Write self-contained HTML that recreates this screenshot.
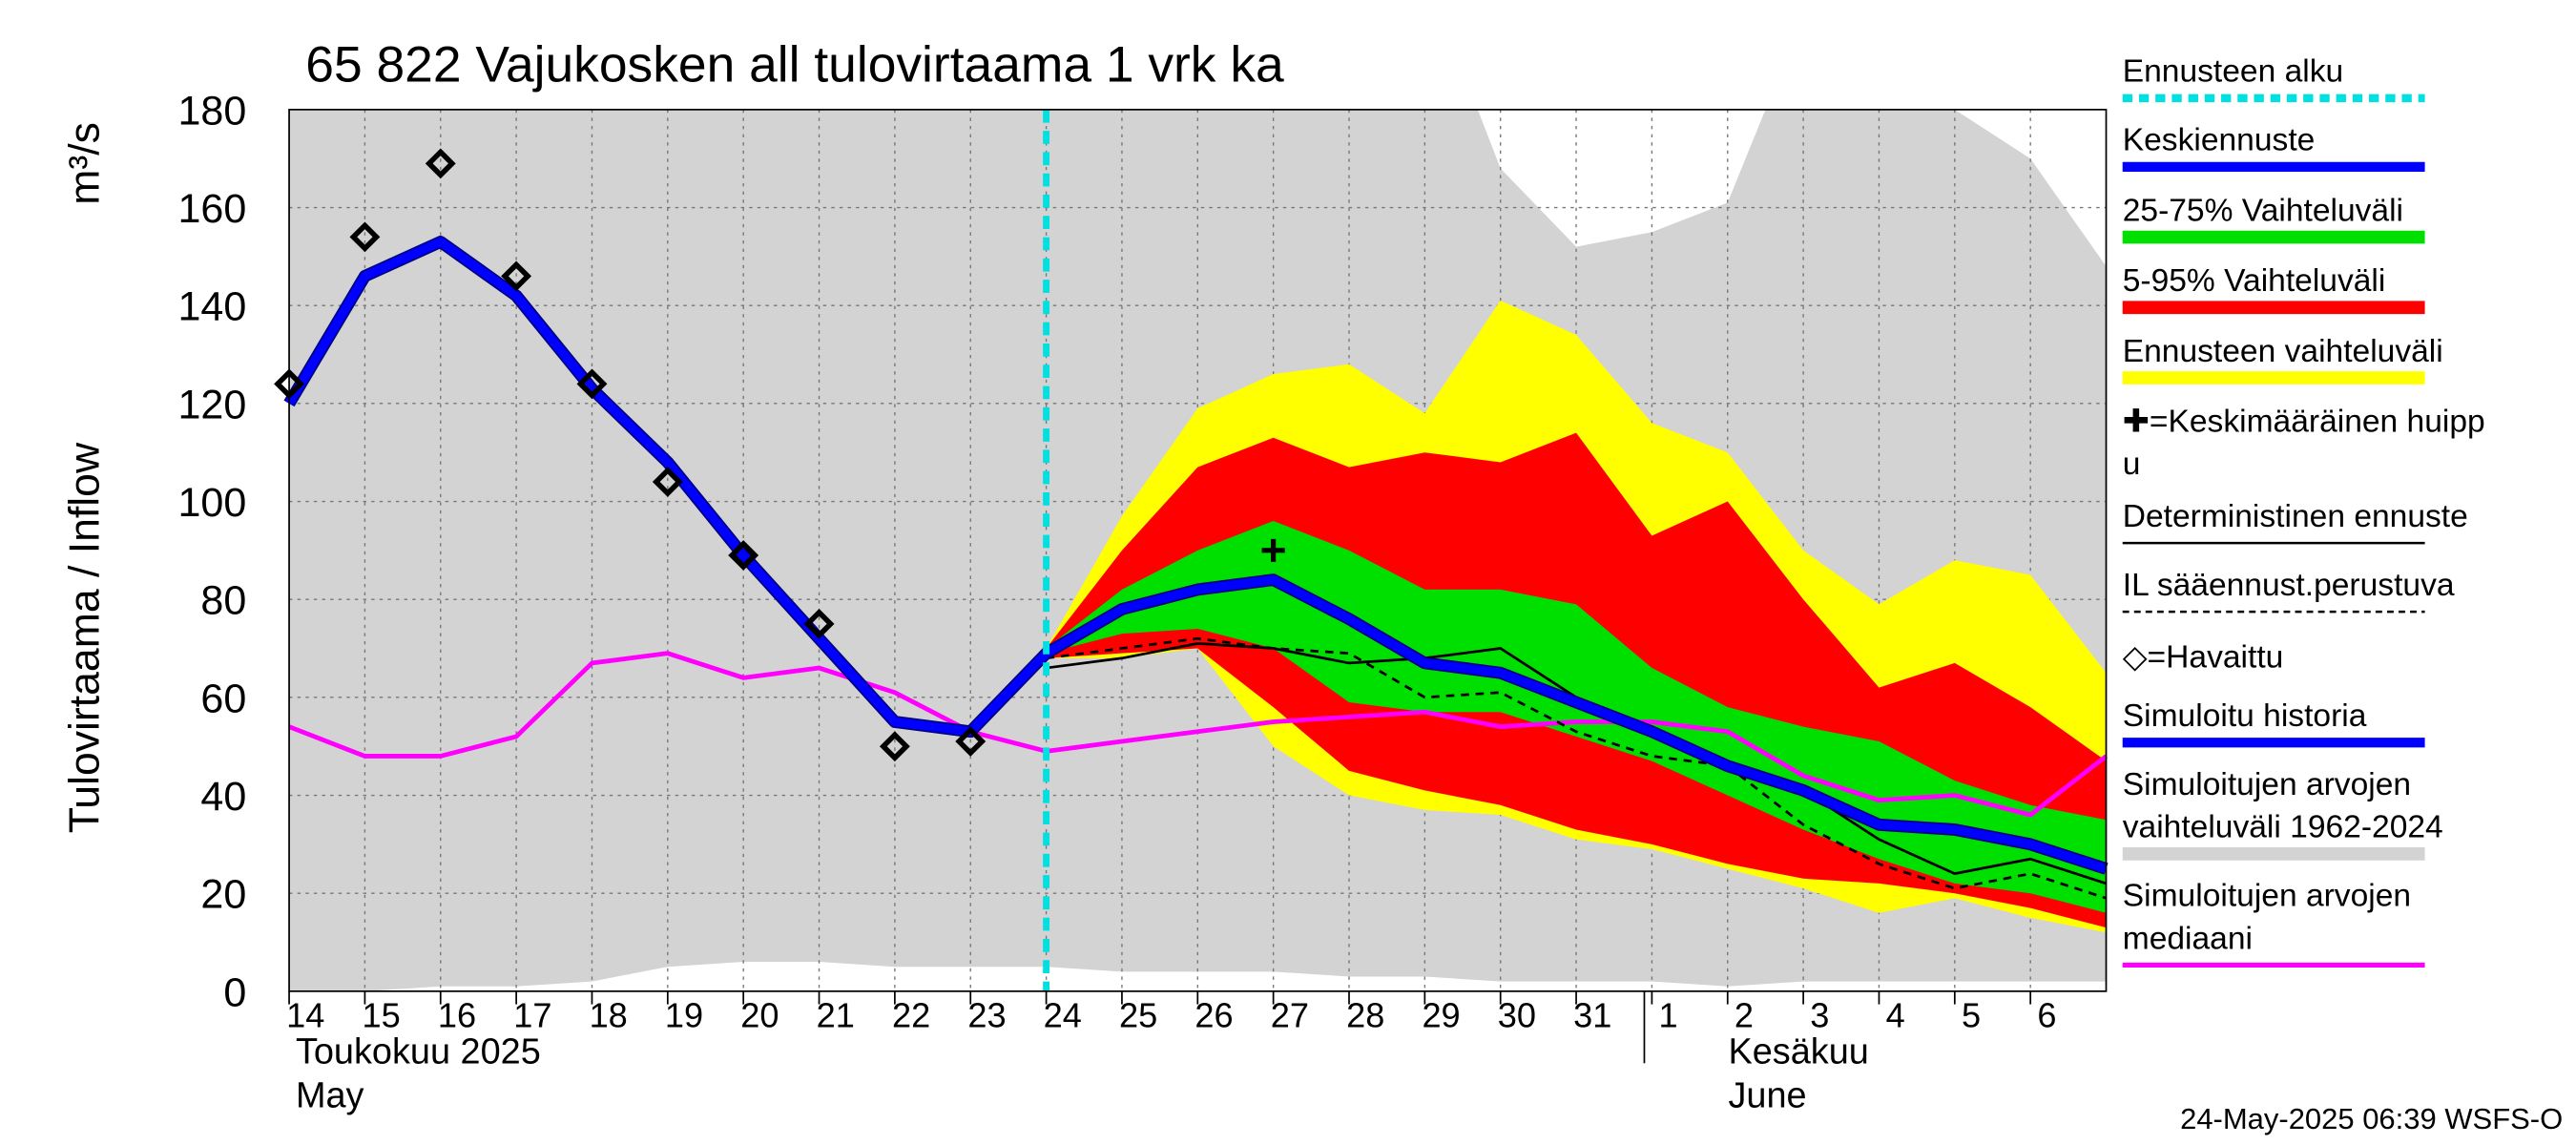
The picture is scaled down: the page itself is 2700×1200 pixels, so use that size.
<!DOCTYPE html>
<html><head><meta charset="utf-8"><style>
html,body{margin:0;padding:0;background:#fff;}
svg{display:block;font-family:"Liberation Sans",sans-serif;}
</style></head><body>
<svg id="chart" width="2700" height="1200" viewBox="0 0 1568 700" preserveAspectRatio="none" xmlns="http://www.w3.org/2000/svg">
<g id="plot"></g>
<g id="axes"></g>
<text x="186" y="50" font-size="31">65 822 Vajukosken all tulovirtaama 1 vrk ka</text>
<text transform="translate(60,390) rotate(-90)" text-anchor="middle" font-size="26">Tulovirtaama / Inflow</text>
<text transform="translate(60,100) rotate(-90)" text-anchor="middle" font-size="26">m³/s</text>
<text x="180" y="650" font-size="22">Toukokuu  2025</text>
<text x="180" y="677" font-size="22">May</text>
<text x="1052" y="650" font-size="22">Kesäkuu</text>
<text x="1052" y="677" font-size="22">June</text>
<text x="1560" y="690" font-size="18" text-anchor="end">24-May-2025 06:39 WSFS-O</text>
<g id="legend"></g>
</svg>
<script>
const dayLabels=["14","15","16","17","18","19","20","21","22","23","24","25","26","27","28","29","30","31","1","2","3","4","5","6"];
const yTicks=[0,20,40,60,80,100,120,140,160,180];
const simHistory=[120,146,153,142,123,108,89,72,55,53,69,78,82,84,76,67,65,59,53,46,41,34,33,30,25];
const observed=[124,154,169,146,124,104,89,75,50,51];
const median=[54,48,48,52,67,69,64,66,61,53,49,51,53,55,56,57,54,55,55,53,44,39,40,36,48];
const greyUpperX=[0,15.7,16,17,18,19,19.5,22,23,24];
const greyUpper=[180,180,168,152,155,161,180,180,170,148];
const greyLower=[0,0,1,1,2,5,6,6,5,5,5,4,4,4,3,3,2,2,2,1,2,2,2,2,2];
const fcDays=[10,11,12,13,14,15,16,17,18,19,20,21,22,23,24];
const yellowUp=[70,97,119,126,128,118,141,134,116,110,90,79,88,85,65];
const yellowLo=[68,68,70,50,40,37,36,31,29,25,21,16,19,15,12];
const redUp=[70,90,107,113,107,110,108,114,93,100,80,62,67,58,47];
const redLo=[68,69,70,58,45,41,38,33,30,26,23,22,20,17,13];
const greenUp=[70,82,90,96,90,82,82,79,66,58,54,51,43,38,35];
const greenLo=[69,73,74,70,59,57,57,52,47,40,33,27,22,20,16];
const determ=[66,68,71,70,67,68,70,60,52,45,41,31,24,27,22];
const ilBased=[68,70,72,70,69,60,61,53,48,46,34,26,21,24,19];
const peakDay=13, peakVal=90;
const forecastDay=10;

const X0=176,X1=1282,Y0=606,Y1=67,NDAYS=24;
const xs=d=>X0+d*(X1-X0)/NDAYS;
const ys=v=>Y0-v*(Y0-Y1)/180;
const NS="http://www.w3.org/2000/svg";
function mk(parent,tag,attrs){const e=document.createElementNS(NS,tag);for(const k in attrs)e.setAttribute(k,attrs[k]);parent.appendChild(e);return e;}
const plot=document.getElementById('plot'),axes=document.getElementById('axes'),leg=document.getElementById('legend');
function band(xa,up,lo,col,name){let p=xa.map((d,i)=>xs(d)+','+ys(up[i]));for(let i=xa.length-1;i>=0;i--)p.push(xs(xa[i])+','+ys(lo[i]));
 const e=mk(plot,'polygon',{points:p.join(' '),fill:col});
 
 }
function line(xa,vals,col,w,name,dash){const e=mk(plot,'polyline',{points:xa.map((d,i)=>xs(d)+','+ys(vals[i])).join(' '),fill:'none',stroke:col,'stroke-width':w,'stroke-linejoin':'round'});if(dash)e.setAttribute('stroke-dasharray',dash);
 
 }
const allDays=simHistory.map((_,i)=>i);
{let p=greyUpperX.map((d,i)=>xs(d)+','+ys(greyUpper[i]));for(let i=allDays.length-1;i>=0;i--)p.push(xs(allDays[i])+','+ys(greyLower[i]));
 const e=mk(plot,'polygon',{points:p.join(' '),fill:'#d3d3d3'});
 
 }
yTicks.forEach(v=>{const g=mk(plot,'line',{x1:X0,x2:X1,y1:ys(v),y2:ys(v),stroke:'#777','stroke-width':0.8,'stroke-dasharray':'2,3'});
 
 });
for(let d=1;d<NDAYS;d++){const g=mk(plot,'line',{x1:xs(d),x2:xs(d),y1:Y1,y2:Y0,stroke:'#777','stroke-width':0.8,'stroke-dasharray':'2,3'});
 
 }
band(fcDays,yellowUp,yellowLo,'#ffff00','forecast-range-band');
band(fcDays,redUp,redLo,'#ff0000','band-5-95');
band(fcDays,greenUp,greenLo,'#00e000','band-25-75');
line(allDays,median,'#ff00ff',2.8,'median-line');
line(fcDays,determ,'#000',1.6,'deterministic-line');
line(fcDays,ilBased,'#000',1.6,'il-forecast-line','5,4');
line(allDays,simHistory,'#000080',7.5,'simulated-mean-outline');
line(allDays,simHistory,'#0000ff',5.5,'simulated-mean-line');
{const f=mk(plot,'line',{x1:xs(forecastDay),x2:xs(forecastDay),y1:Y1,y2:Y0,stroke:'#00e0e0','stroke-width':4,'stroke-dasharray':'8,5'});
 
 }
observed.forEach((v,i)=>{const x=xs(i),y=ys(v);const e=mk(plot,'polygon',{points:`${x},${y-7} ${x+7},${y} ${x},${y+7} ${x-7},${y}`,fill:'none',stroke:'#000','stroke-width':3.2});
 
 });
{const x=xs(peakDay),y=ys(peakVal);const e=mk(plot,'path',{d:`M${x-7},${y}H${x+7}M${x},${y-7}V${y+7}`,stroke:'#000','stroke-width':3});
 
 }
{const r=mk(axes,'rect',{x:X0,y:Y1,width:X1-X0,height:Y0-Y1,fill:'none',stroke:'#000','stroke-width':1});
 
 }
yTicks.forEach(v=>{const t=mk(axes,'text',{x:150,y:ys(v)+9,'text-anchor':'end','font-size':25});t.textContent=v;
 
 });
dayLabels.forEach((s,i)=>{const t=mk(axes,'text',{x:xs(i)+10,y:628,'text-anchor':'middle','font-size':21});t.textContent=s;
 
 
 const k=mk(axes,'line',{x1:xs(i),x2:xs(i),y1:Y0,y2:Y0+8,stroke:'#000'});
 
 });
{const m=mk(axes,'line',{x1:xs(17.9),x2:xs(17.9),y1:Y0,y2:650,stroke:'#000'});
 
 }
const legItems=[
 ["Ennusteen alku",50,'#00e0e0',5,'6,4'],
 ["Keskiennuste",92,'#0000ff',6],
 ["25-75% Vaihteluväli",135,'#00e000',8],
 ["5-95% Vaihteluväli",178,'#ff0000',8],
 ["Ennusteen vaihteluväli",221,'#ffff00',8],
 ["✚=Keskimääräinen huipp",264,null],
 ["u",290,null],
 ["Deterministinen ennuste",322,'#000',1.5],
 ["IL sääennust.perustuva",364,'#000',1.5,'4,3'],
 ["◇=Havaittu",408,null],
 ["Simuloitu historia",444,'#0000ff',6],
 ["Simuloitujen arvojen",486,null],
 ["vaihteluväli 1962-2024",512,'#d3d3d3',8],
 ["Simuloitujen arvojen",554,null],
 ["mediaani",580,'#ff00ff',3]];
legItems.forEach(it=>{const t=mk(leg,'text',{x:1292,y:it[1],'font-size':19.5});t.textContent=it[0];
 
 
 if(it[2]){const l=mk(leg,'line',{x1:1292,x2:1476,y1:it[1]+10,y2:it[1]+10,stroke:it[2],'stroke-width':it[3]});if(it[4])l.setAttribute('stroke-dasharray',it[4]);
 
 }});
</script>
</body></html>
